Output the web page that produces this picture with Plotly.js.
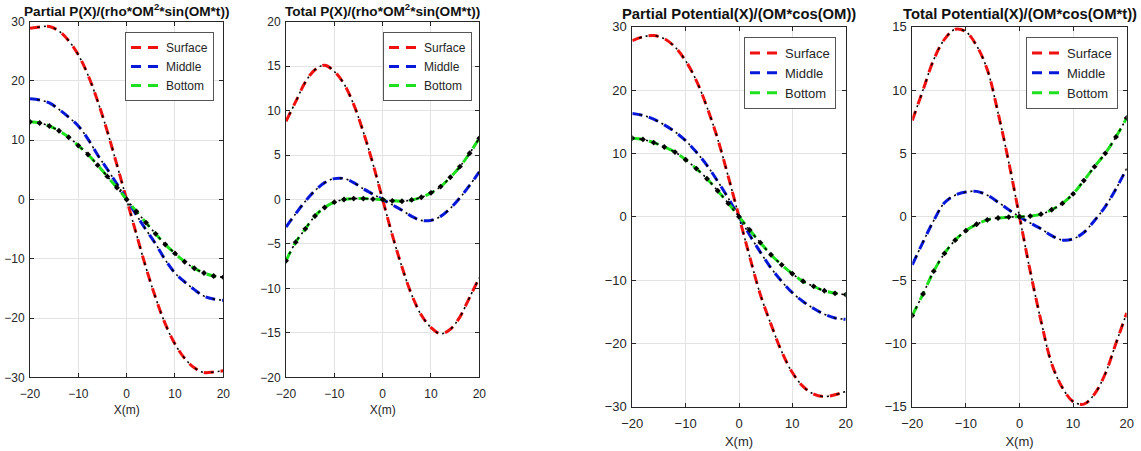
<!DOCTYPE html>
<html>
<head>
<meta charset="utf-8">
<script src="https://cdn.plot.ly/plotly-3.0.1.min.js"></script>
<style>html,body{margin:0;padding:0;background:#fff}#chart{width:1141px;height:451px}</style>
</head>
<body>
<div id="chart"></div>
<script>
// ---- data ----
const xPos = [-20,-18,-16,-14,-12,-10,-8,-6,-4,-2,0,2,4,6,8,10,12,14,16,18,20];
const seriesNames = ["Surface","Middle","Bottom"];

// Panel 1: Partial P(X)/(rho*OM^2*sin(OM*t))
const partialP_surface = [28.9,29.1,29.2,28.4,26.8,24.4,21.0,16.6,11.5,5.8,0,-5.8,-11.5,-16.6,-21.0,-24.4,-26.8,-28.4,-29.2,-29.1,-28.9];
const partialP_middle  = [17.0,16.8,16.3,15.2,13.9,12.4,10.2,7.5,5.1,2.6,0,-2.6,-5.1,-7.5,-10.2,-12.4,-13.9,-15.2,-16.3,-16.8,-17.0];
const partialP_bottom  = [13.1,12.9,12.4,11.6,10.5,9.1,7.6,5.8,3.9,2.0,0,-2.0,-3.9,-5.8,-7.6,-9.1,-10.5,-11.6,-12.4,-12.9,-13.1];

// Panel 2: Total P(X)/(rho*OM^2*sin(OM*t))
const totalP_surface = [8.8,11.0,13.2,14.6,15.1,14.4,13.0,10.7,7.6,4.0,0,-4.0,-7.6,-10.7,-13.0,-14.4,-15.1,-14.6,-13.2,-11.0,-8.8];
const totalP_middle  = [-3.1,-1.6,-0.2,1.0,1.9,2.35,2.35,1.9,1.2,0.6,0,-0.6,-1.2,-1.9,-2.35,-2.35,-1.9,-1.0,0.2,1.6,3.1];
const totalP_bottom  = [-6.9,-4.8,-3.3,-1.85,-0.9,-0.3,0.0,0.1,0.1,0.05,0,-0.15,-0.2,-0.05,0.25,0.75,1.45,2.5,3.7,5.2,6.9];

// Panel 3: Partial Potential(X)/(OM*cos(OM))
const partialPot_surface = [27.8,28.4,28.6,28.1,26.8,24.6,21.5,17.3,12.3,6.3,0,-6.3,-12.3,-17.0,-21.3,-24.6,-26.8,-28.0,-28.4,-28.1,-27.6];
const partialPot_middle  = [16.3,16.0,15.4,14.5,13.4,12.0,10.2,8.1,5.6,2.9,0,-2.9,-5.6,-8.1,-10.2,-12.0,-13.4,-14.5,-15.4,-16.0,-16.2];
const partialPot_bottom  = [12.4,12.2,11.7,11.0,10.2,9.0,7.6,6.0,4.1,2.1,0,-2.1,-4.1,-6.0,-7.6,-9.0,-10.2,-11.0,-11.7,-12.1,-12.3];

// Panel 4: Total Potential(X)/(OM*cos(OM*t))
const totalPot_surface = [7.6,10.0,12.4,14.0,14.8,14.6,13.5,11.6,8.2,4.3,0,-4.3,-8.2,-11.6,-13.5,-14.6,-14.8,-14.0,-12.4,-10.0,-7.6];
const totalPot_middle  = [-3.8,-2.0,-0.3,1.1,1.7,1.95,2.0,1.7,1.15,0.55,0,-0.5,-0.95,-1.5,-1.85,-1.75,-1.25,-0.3,0.8,2.2,3.8];
const totalPot_bottom  = [-7.8,-6.1,-4.3,-2.9,-1.85,-1.1,-0.6,-0.25,-0.1,-0.03,0,0.05,0.2,0.55,1.05,1.8,2.85,3.95,5.0,6.3,7.8];

const panelTitles = [
  "<b>Partial P(X)/(rho*OM<sup>2</sup>*sin(OM*t))</b>",
  "<b>Total P(X)/(rho*OM<sup>2</sup>*sin(OM*t))</b>",
  "<b>Partial Potential(X)/(OM*cos(OM))</b>",
  "<b>Total Potential(X)/(OM*cos(OM*t))</b>"
];
const xTitle = "X(m)";
const yRanges = [[-30,30],[-20,20],[-30,30],[-15,15]];
const yDticks = [10,5,10,5];

// ---- layout geometry (pixels) ----
const W = 1141, H = 451;
const boxes = [
  {l:30,  r:223.3, t:21.7, b:377.3, titleY:10, legR:214, legT:32, fs:12, tfs:13.6, xstand:5},
  {l:286, r:479.3, t:21.7, b:377.3, titleY:10, legR:472, legT:32, fs:12, tfs:13.6, xstand:5},
  {l:632.3, r:845.7, t:26.7, b:406.7, titleY:14, legR:836, legT:37, fs:13, tfs:14.8, xstand:6},
  {l:912.3, r:1126.7, t:26.7, b:406.7, titleY:14, legR:1118, legT:37, fs:13, tfs:14.8, xstand:6}
];
const panels = [
  [partialP_surface, partialP_middle, partialP_bottom],
  [totalP_surface, totalP_middle, totalP_bottom],
  [partialPot_surface, partialPot_middle, partialPot_bottom],
  [totalPot_surface, totalPot_middle, totalPot_bottom]
];
const colors = ["#f01010","#0818d8","#1ee01e"];
const FONT = "Liberation Sans, Arial, Helvetica, sans-serif";
const INK = "#262626";

const traces = [];
const layout = {
  width: W, height: H,
  margin: {l:0, r:0, t:0, b:0},
  paper_bgcolor: "#fff", plot_bgcolor: "#fff",
  font: {family: FONT, size: 12, color: INK},
  annotations: [],
  showlegend: true
};

panels.forEach((series, p) => {
  const k = p === 0 ? "" : String(p + 1);
  const bx = boxes[p];
  const xa = "x" + k, ya = "y" + k;
  const legendId = "legend" + k;
  series.forEach((vals, s) => {
    traces.push({
      x: xPos, y: vals, xaxis: xa, yaxis: ya, type: "scatter", mode: "lines",
      name: seriesNames[s],
      line: {color: colors[s], width: 3, dash: "10px,7px", shape: "spline", smoothing: 1},
      legend: legendId
    });
    // black dash-dot overlay, as in the reference
    traces.push({
      x: xPos, y: vals, xaxis: xa, yaxis: ya, type: "scatter",
      mode: s === 2 ? "lines+markers" : "lines",
      line: {color: "#000", width: 1.6, dash: "0px,7px,3px,4px,2px,1px", shape: "spline", smoothing: 1},
      marker: {color: "#000", size: 4.5, symbol: "diamond"},
      showlegend: false, hoverinfo: "skip", legend: legendId
    });
  });

  const common = {
    showline: true, linecolor: INK, linewidth: 1, mirror: "ticks",
    ticks: "inside", ticklen: 4, tickcolor: INK, tickwidth: 1,
    showgrid: true, gridcolor: "#e3e3e3", gridwidth: 1,
    zeroline: false, tickfont: {family: FONT, size: bx.fs, color: INK},
    fixedrange: true
  };
  layout["xaxis" + k] = Object.assign({}, common, {
    domain: [bx.l / W, bx.r / W], anchor: ya,
    range: [-20, 20], dtick: 10, tick0: 0, ticklabelstandoff: 5,
    title: {text: xTitle, font: {family: FONT, size: bx.fs, color: INK}, standoff: bx.xstand}
  });
  layout["yaxis" + k] = Object.assign({}, common, {
    domain: [1 - bx.b / H, 1 - bx.t / H], anchor: xa,
    range: yRanges[p], dtick: yDticks[p], tick0: 0, ticklabelstandoff: 2
  });
  layout[legendId] = {
    x: bx.legR / W, xanchor: "right", y: 1 - bx.legT / H, yanchor: "top",
    bgcolor: "#fff", bordercolor: "#555", borderwidth: 1,
    font: {family: FONT, size: bx.fs, color: INK},
    itemwidth: 30, tracegroupgap: 0
  };
  layout.annotations.push({
    text: panelTitles[p], xref: "paper", yref: "paper",
    x: (bx.l + bx.r) / 2 / W, y: 1 - bx.titleY / H,
    xanchor: "center", yanchor: "middle", showarrow: false,
    font: {family: FONT, size: bx.tfs, color: "#111"}
  });
});

Plotly.newPlot("chart", traces, layout, {staticPlot: true, displayModeBar: false});
</script>
</body>
</html>
